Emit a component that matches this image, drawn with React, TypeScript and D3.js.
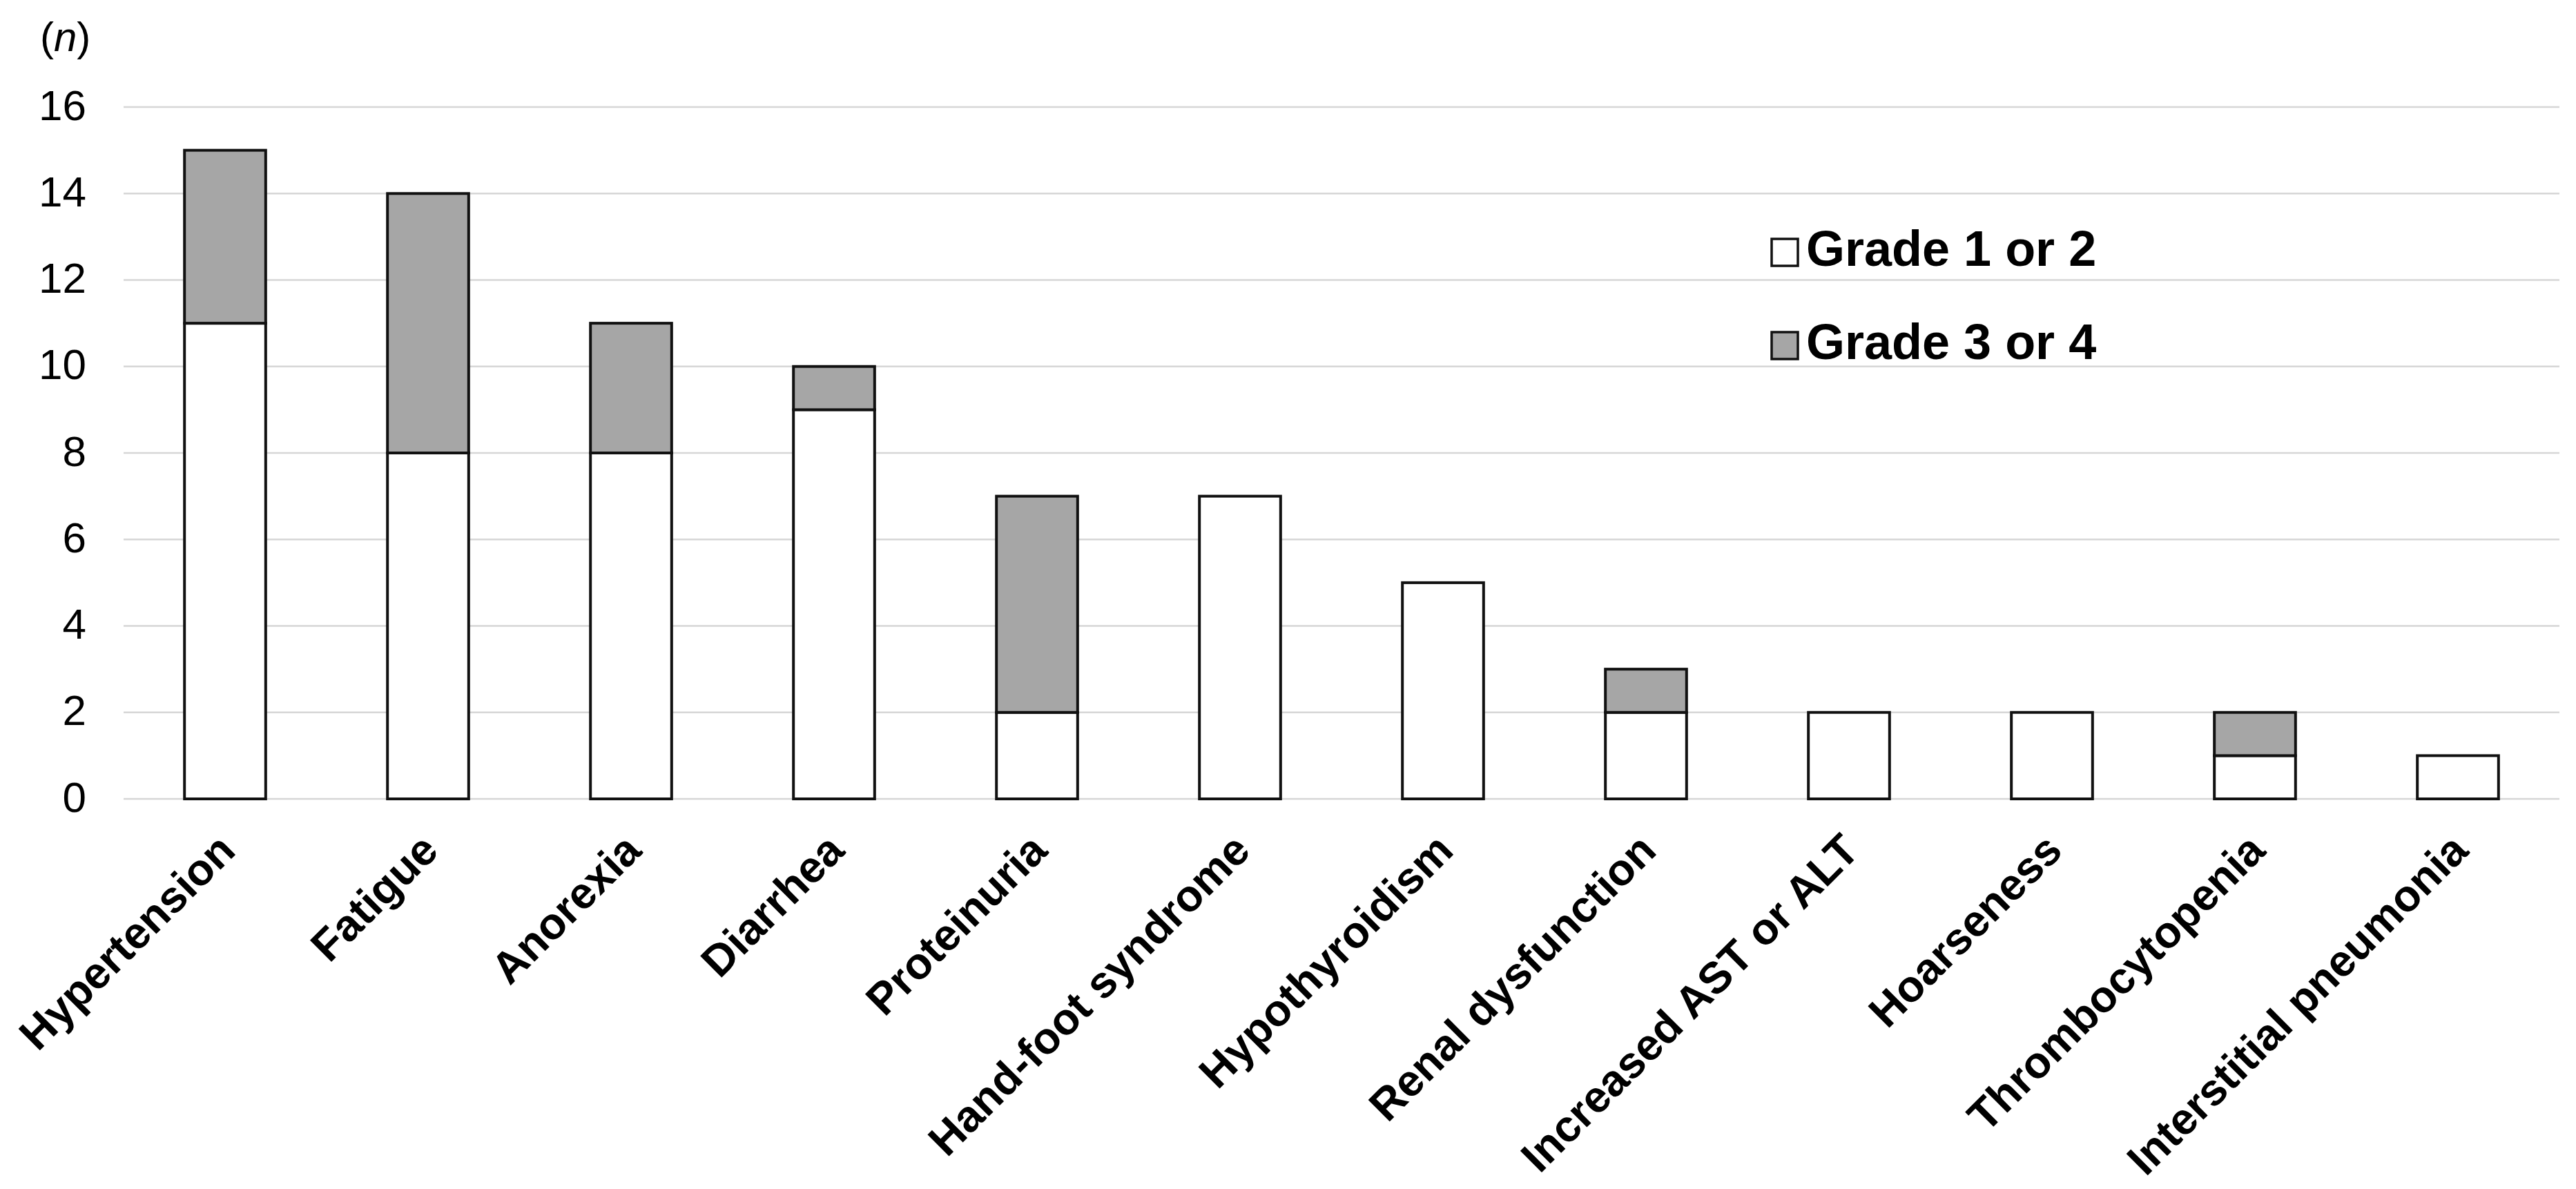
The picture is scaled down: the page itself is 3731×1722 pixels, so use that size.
import React from "react";
import * as d3 from "d3";

const categories = [
  "Hypertension",
  "Fatigue",
  "Anorexia",
  "Diarrhea",
  "Proteinuria",
  "Hand-foot syndrome",
  "Hypothyroidism",
  "Renal dysfunction",
  "Increased AST or ALT",
  "Hoarseness",
  "Thrombocytopenia",
  "Interstitial pneumonia",
];
const grade12 = [11, 8, 8, 9, 2, 7, 5, 2, 2, 2, 1, 1];
const grade34 = [4, 6, 3, 1, 5, 0, 0, 1, 0, 0, 1, 0];
const seriesNames = ["Grade 1 or 2", "Grade 3 or 4"];
const seriesColors = ["#ffffff", "#a6a6a6"];
const yTicks = [0, 2, 4, 6, 8, 10, 12, 14, 16];

const W = 3731;
const H = 1722;
const FONT = "'Liberation Sans', Arial, Helvetica, sans-serif";

export default function App() {
  const x = d3
    .scaleBand<string>()
    .domain(categories)
    .range([179, 3707])
    .paddingInner(0.6)
    .paddingOuter(0.3);
  const y = d3.scaleLinear().domain([0, 16]).range([1157, 155]);

  const rows = categories.map((c, i) => ({ cat: c, g12: grade12[i], g34: grade34[i] }));
  const stack = d3.stack<any>().keys(["g12", "g34"]);
  const layers = stack(rows);

  return (
    <svg
      width={W}
      height={H}
      style={{ position: "absolute", left: 0, top: 0, display: "block", background: "#fff" }}
      fontFamily={FONT}
    >
      <rect x={0} y={0} width={W} height={H} fill="#fff" />
      {yTicks.map((t) => (
        <line key={"g" + t} x1={179} x2={3707} y1={y(t)} y2={y(t)} stroke="#d6d6d6" strokeWidth={2.5} />
      ))}
      {yTicks.map((t) => (
        <text key={"t" + t} x={125} y={y(t)} dy="0.3em" textAnchor="end" fontSize={62} fill="#000">
          {t}
        </text>
      ))}
      <text x={58} y={74} fontSize={60} fill="#000">
        (<tspan fontStyle="italic">n</tspan>)
      </text>
      {layers.map((layer, li) =>
        layer.map((d, i) => {
          const v = d[1] - d[0];
          if (v <= 0) return null;
          return (
            <rect
              key={li + "-" + i}
              x={x(categories[i])!}
              y={y(d[1])}
              width={x.bandwidth()}
              height={y(d[0]) - y(d[1])}
              fill={seriesColors[li]}
              stroke="#111"
              strokeWidth={4}
            />
          );
        })
      )}
      {categories.map((c) => {
        const cx = x(c)! + x.bandwidth() / 2 + 18;
        const cy = 1235;
        return (
          <text
            key={"x" + c}
            x={cx}
            y={cy}
            transform={`rotate(-45, ${cx}, ${cy})`}
            textAnchor="end"
            fontSize={64}
            fontWeight="bold"
            fill="#000"
          >
            {c}
          </text>
        );
      })}
      {seriesNames.map((s, i) => {
        const top = 346 + i * 135;
        return (
          <g key={"l" + s}>
            <rect x={2566} y={top} width={38} height={39} fill={seriesColors[i]} stroke="#111" strokeWidth={3.5} />
            <text x={2616} y={top + 39} fontSize={72} fontWeight="bold" fill="#000">
              {s}
            </text>
          </g>
        );
      })}
    </svg>
  );
}
